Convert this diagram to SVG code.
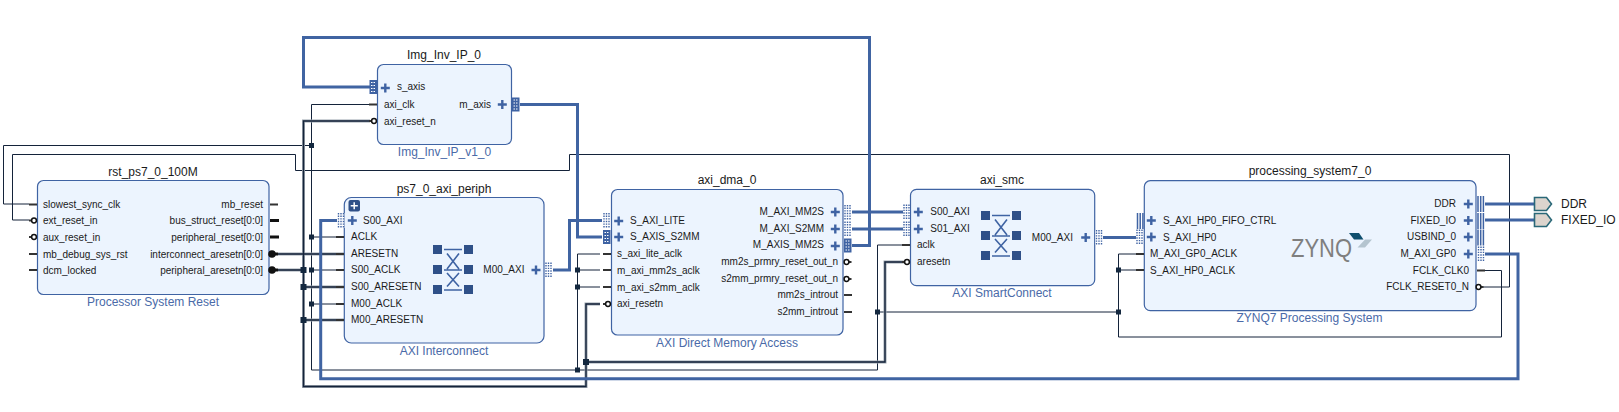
<svg xmlns="http://www.w3.org/2000/svg" xmlns:xlink="http://www.w3.org/1999/xlink" width="1619" height="412" viewBox="0 0 1619 412">
<style>
text{font-family:"Liberation Sans",Arial,sans-serif;fill:#1a1a1a}
.pin{font-size:10px}
.end{text-anchor:end}
.title{font-size:12px;text-anchor:middle}
.sub{font-size:12px;text-anchor:middle;fill:#4a6aa8}
.box{fill:#ecf4fe;stroke:#3f63a3;stroke-width:1.2}
.w{fill:none;stroke:#14233a;stroke-width:1}
.b{fill:none;stroke:#4064a2;stroke-width:3}
.rh{fill:none;stroke:#9aa3ad;stroke-width:3}
.rc{fill:none;stroke:#14233a;stroke-width:1.4}
.j{fill:#14283f}
.st{stroke:#333;stroke-width:2;fill:none}
.stb{stroke:#111;stroke-width:3;fill:none}
</style>
<defs>
<g id="plus"><path d="M-4.5 0H4.5M0-4.5V4.5" stroke="#3f63a3" stroke-width="2.4" fill="none"/></g>
<g id="dot"><rect x="0" y="-7.5" width="7" height="15" fill="#fff"/><path d="M1 -7.5V7.5M3.5 -7.5V7.5M6 -7.5V7.5" stroke="#3f63a3" stroke-width="1.4" stroke-dasharray="1.4 1.2" fill="none"/></g>
<g id="stripe"><rect x="0" y="-7" width="7.5" height="14" fill="#3f63a3"/><path d="M1.5 -4.5H6M1.5 -1.5H6M1.5 1.5H6M1.5 4.5H6" stroke="#fff" stroke-width="1" stroke-dasharray="1.5 1" fill="none"/></g>
<g id="vbar"><path d="M1 -8V8M3.7 -8V8M6.4 -8V8" stroke="#3f63a3" stroke-width="1.5" fill="none"/></g>
<g id="bubL"><path d="M-8 0H-3" class="st"/><circle cx="-3" cy="0" r="2.4" fill="#fff" stroke="#111" stroke-width="1.5"/></g>
<g id="bubR"><path d="M3 0H8" class="st"/><circle cx="3" cy="0" r="2.4" fill="#fff" stroke="#111" stroke-width="1.5"/></g>
<g id="bigR"><path d="M2 0H9" class="stb"/><circle cx="3" cy="0" r="3.8" fill="#111"/></g>
<g id="jn"><rect x="-2.5" y="-2.5" width="5" height="5" class="j"/></g>
<g id="jb"><rect x="-3" y="-3" width="6" height="6" class="j"/></g>
<g id="xbar" fill="#2f5088">
<rect x="-20" y="-25" width="9" height="9"/><rect x="11" y="-25" width="9" height="9"/>
<rect x="-20" y="-5" width="9" height="9"/><rect x="11" y="-5" width="9" height="9"/>
<rect x="-20" y="15" width="9" height="9"/><rect x="11" y="15" width="9" height="9"/>
<path d="M-9-20.500H9M-9 0H9M-9 20H9M-6-16.500L6-1M6-16.500L-6-1M-6 16.500L6 3M6 16.500L-6 3" stroke="#3f63a3" stroke-width="1.6" fill="none"/>
</g>
<path id="r1" d="M278 270H303.500M370 121H303.500V386.500H586V304H600"/>
<path id="r2" d="M586 362H885V262H904"/>
<path id="r3" d="M278 254H344M303.500 287H344M303.500 320H344"/>
</defs>

<g id="connectors">
<path class="w" d="M29 204H3.500V145.500H311.500"/>
<path class="w" d="M29 220H12.500V154.500H295.500V170.500H569.500V154.500H1509.500V287H1483"/>
<path class="w" d="M370 104.500H311.500V370H877.500V245H904"/>
<path class="w" d="M311.500 237H343M311.500 270H343M311.500 304H343"/>
<path class="w" d="M600 254H577.500V370M577.500 270H600M577.500 287H600"/>
<path class="w" d="M877.500 312H1118.500M1136 254H1118.500V337H1501.500V270.500H1484M1118.500 270H1136"/>
<use href="#r1" class="rh"/><use href="#r2" class="rh"/><use href="#r3" class="rh"/>
<use href="#r1" class="rc"/><use href="#r2" class="rc"/><use href="#r3" class="rc"/>
<path class="b" d="M370 87H303.500V37.500H869.500V245.500H852"/>
<path class="b" d="M520 104.500H577.500V237H602"/>
<path class="b" d="M553 270H569.500V220.500H602"/>
<path class="b" d="M337 220.500H320.700V378.700H1518V254H1485"/>
<path class="b" d="M852 212H903M852 229H903"/>
<path class="b" d="M1103 237.500H1136"/>
<path class="b" d="M1485 204H1534M1485 220H1534"/>
<use href="#jn" x="311.500" y="145.500"/><use href="#jn" x="311.500" y="237"/><use href="#jn" x="311.500" y="270"/><use href="#jn" x="311.500" y="304"/>
<use href="#jb" x="303.500" y="270"/><use href="#jb" x="303.500" y="287"/><use href="#jb" x="303.500" y="320"/>
<use href="#jn" x="577.500" y="270"/><use href="#jn" x="577.500" y="287"/><use href="#jn" x="577.500" y="370"/>
<use href="#jb" x="586" y="362"/>
<use href="#jn" x="877.500" y="312"/><use href="#jn" x="1118.500" y="270"/><use href="#jn" x="1118.500" y="312"/>
</g>

<g id="rst_ps7_0_100M">
<text class="title" x="153" y="176">rst_ps7_0_100M</text>
<rect class="box" x="37.500" y="180.500" width="231.500" height="114" rx="6"/>
<path class="st" d="M29 204.500H37M29 254H37M29 270H37M270 204.500H278"/>
<path class="stb" d="M270 220.500H279M270 237H279"/>
<use href="#bubL" x="37" y="220.500"/><use href="#bubL" x="37" y="237"/>
<use href="#bigR" x="269" y="254"/><use href="#bigR" x="269" y="270"/>
<text class="pin" x="43" y="207.500">slowest_sync_clk</text>
<text class="pin" x="43" y="223.500">ext_reset_in</text>
<text class="pin" x="43" y="240.500">aux_reset_in</text>
<text class="pin" x="43" y="257.500">mb_debug_sys_rst</text>
<text class="pin" x="43" y="273.500">dcm_locked</text>
<text class="pin end" x="263" y="207.500">mb_reset</text>
<text class="pin end" x="263" y="223.500">bus_struct_reset[0:0]</text>
<text class="pin end" x="263" y="240.500">peripheral_reset[0:0]</text>
<text class="pin end" x="263" y="257.500">interconnect_aresetn[0:0]</text>
<text class="pin end" x="263" y="273.500">peripheral_aresetn[0:0]</text>
<text class="sub" x="153" y="305.500">Processor System Reset</text>
</g>

<g id="Img_Inv_IP_0">
<text class="title" x="444" y="59">Img_Inv_IP_0</text>
<rect class="box" x="377.500" y="64.500" width="134" height="80" rx="6"/>
<use href="#stripe" x="369.500" y="87"/><use href="#stripe" x="512" y="104.500"/>
<use href="#plus" x="385.300" y="88"/><use href="#plus" x="502.300" y="104.500"/>
<path class="st" d="M369 104.500H377"/>
<use href="#bubL" x="377" y="121"/>
<text class="pin" x="397" y="90">s_axis</text>
<text class="pin" x="384" y="107.500">axi_clk</text>
<text class="pin" x="384" y="124.500">axi_reset_n</text>
<text class="pin end" x="491" y="107.500">m_axis</text>
<text class="sub" x="444.500" y="156">Img_Inv_IP_v1_0</text>
</g>

<g id="ps7_0_axi_periph">
<text class="title" x="444" y="192.500">ps7_0_axi_periph</text>
<rect class="box" x="344.300" y="197.500" width="199.700" height="145.500" rx="7"/>
<rect x="348.500" y="200" width="11.500" height="11.500" rx="2" fill="#2f5088"/>
<path d="M350.700 205.700H357.800M354.200 202.200V209.300" stroke="#fff" stroke-width="1.500" fill="none"/>
<use href="#dot" x="337.500" y="220.500"/><use href="#dot" x="545" y="270"/>
<use href="#plus" x="352.300" y="220.500"/><use href="#plus" x="536" y="270"/>
<path class="st" d="M336 237H344M336 254H344M336 270H344M336 287H344M336 304H344M336 320H344"/>
<text class="pin" x="363" y="223.500">S00_AXI</text>
<text class="pin" x="351" y="240">ACLK</text>
<text class="pin" x="351" y="256.500">ARESETN</text>
<text class="pin" x="351" y="273">S00_ACLK</text>
<text class="pin" x="351" y="290">S00_ARESETN</text>
<text class="pin" x="351" y="306.500">M00_ACLK</text>
<text class="pin" x="351" y="323">M00_ARESETN</text>
<text class="pin end" x="524.500" y="273">M00_AXI</text>
<use href="#xbar" x="453" y="270"/>
<text class="sub" x="444" y="355">AXI Interconnect</text>
</g>

<g id="axi_dma_0">
<text class="title" x="727" y="184">axi_dma_0</text>
<rect class="box" x="611.500" y="189.500" width="231.500" height="145.500" rx="6"/>
<use href="#dot" x="603" y="220.500"/><use href="#stripe" x="603" y="237"/>
<use href="#dot" x="844" y="212.500"/><use href="#dot" x="844" y="229"/><use href="#stripe" x="844" y="245.500"/>
<use href="#plus" x="618.700" y="221"/><use href="#plus" x="618.700" y="237"/>
<use href="#plus" x="835.300" y="212"/><use href="#plus" x="835.300" y="229"/><use href="#plus" x="835.300" y="246"/>
<path class="st" d="M603 254H611M603 270H611M603 287H611M844 295H852M844 312H852"/>
<use href="#bubL" x="611" y="304"/><use href="#bubR" x="843.500" y="262"/><use href="#bubR" x="843.500" y="279"/>
<text class="pin" x="630" y="223.500">S_AXI_LITE</text>
<text class="pin" x="630" y="240">S_AXIS_S2MM</text>
<text class="pin" x="617" y="257">s_axi_lite_aclk</text>
<text class="pin" x="617" y="273.500">m_axi_mm2s_aclk</text>
<text class="pin" x="617" y="290.500">m_axi_s2mm_aclk</text>
<text class="pin" x="617" y="307">axi_resetn</text>
<text class="pin end" x="824" y="215">M_AXI_MM2S</text>
<text class="pin end" x="824" y="232">M_AXI_S2MM</text>
<text class="pin end" x="824" y="248">M_AXIS_MM2S</text>
<text class="pin end" x="838" y="265">mm2s_prmry_reset_out_n</text>
<text class="pin end" x="838" y="282">s2mm_prmry_reset_out_n</text>
<text class="pin end" x="838" y="298">mm2s_introut</text>
<text class="pin end" x="838" y="315">s2mm_introut</text>
<text class="sub" x="727" y="347">AXI Direct Memory Access</text>
</g>

<g id="axi_smc">
<text class="title" x="1002" y="184">axi_smc</text>
<rect class="box" x="910.500" y="189.300" width="184.200" height="96.400" rx="6"/>
<use href="#dot" x="903" y="212"/><use href="#dot" x="903" y="229"/><use href="#dot" x="1095.500" y="237.500"/>
<use href="#plus" x="918.300" y="212"/><use href="#plus" x="918.300" y="229"/><use href="#plus" x="1085.700" y="237.500"/>
<path class="st" d="M902 245H910"/>
<use href="#bubL" x="910" y="262"/>
<text class="pin" x="930.300" y="215">S00_AXI</text>
<text class="pin" x="930.300" y="232">S01_AXI</text>
<text class="pin" x="917" y="248">aclk</text>
<text class="pin" x="917" y="265">aresetn</text>
<text class="pin end" x="1073" y="240.500">M00_AXI</text>
<use href="#xbar" x="1001" y="236"/>
<text class="sub" x="1002" y="296.700">AXI SmartConnect</text>
</g>

<g id="processing_system7_0">
<text class="title" x="1310" y="175">processing_system7_0</text>
<rect class="box" x="1144.300" y="180.700" width="331.700" height="130" rx="6"/>
<use href="#vbar" x="1136.500" y="221"/><use href="#dot" x="1136" y="237"/>
<use href="#vbar" x="1477" y="204"/><use href="#vbar" x="1477" y="221"/><use href="#vbar" x="1477" y="237.500"/><use href="#dot" x="1477.500" y="254"/>
<use href="#plus" x="1151.300" y="220.500"/><use href="#plus" x="1151.300" y="237"/>
<use href="#plus" x="1468.300" y="204"/><use href="#plus" x="1468.300" y="220.500"/><use href="#plus" x="1468.300" y="237"/><use href="#plus" x="1468.300" y="254"/>
<path class="st" d="M1136 254H1144M1136 270H1144M1477 270.500H1485"/>
<use href="#bubR" x="1475.500" y="287"/>
<text class="pin" x="1163" y="223.500">S_AXI_HP0_FIFO_CTRL</text>
<text class="pin" x="1163" y="240.500">S_AXI_HP0</text>
<text class="pin" x="1150" y="257">M_AXI_GP0_ACLK</text>
<text class="pin" x="1150" y="273.500">S_AXI_HP0_ACLK</text>
<text class="pin end" x="1456" y="206.500">DDR</text>
<text class="pin end" x="1456" y="223.500">FIXED_IO</text>
<text class="pin end" x="1456" y="240">USBIND_0</text>
<text class="pin end" x="1456" y="256.500">M_AXI_GP0</text>
<text class="pin end" x="1469" y="273.500">FCLK_CLK0</text>
<text class="pin end" x="1469" y="290">FCLK_RESET0_N</text>
<text x="1291" y="257" font-size="26" textLength="61" lengthAdjust="spacingAndGlyphs" style="fill:#7f7f7f">ZYNQ</text>
<path d="M1349 233H1359L1363.500 239.500H1354Z" fill="#0f4f6e"/>
<path d="M1365 239.500H1372L1365 247.500H1357.500Z" fill="#b4c4cf"/>
<text class="sub" x="1309.500" y="321.700">ZYNQ7 Processing System</text>
</g>

<g id="DDR">
<path d="M1534.500 197.500H1546.500L1551.500 204L1546.500 210.500H1534.500Z" fill="#dcd4cd" stroke="#2a6878" stroke-width="1.600"/>
<text x="1561" y="207.700" font-size="12">DDR</text>
</g>
<g id="FIXED_IO">
<path d="M1534.500 213.500H1546.500L1551.500 220L1546.500 226.500H1534.500Z" fill="#dcd4cd" stroke="#2a6878" stroke-width="1.600"/>
<text x="1561" y="223.700" font-size="12">FIXED_IO</text>
</g>
</svg>
